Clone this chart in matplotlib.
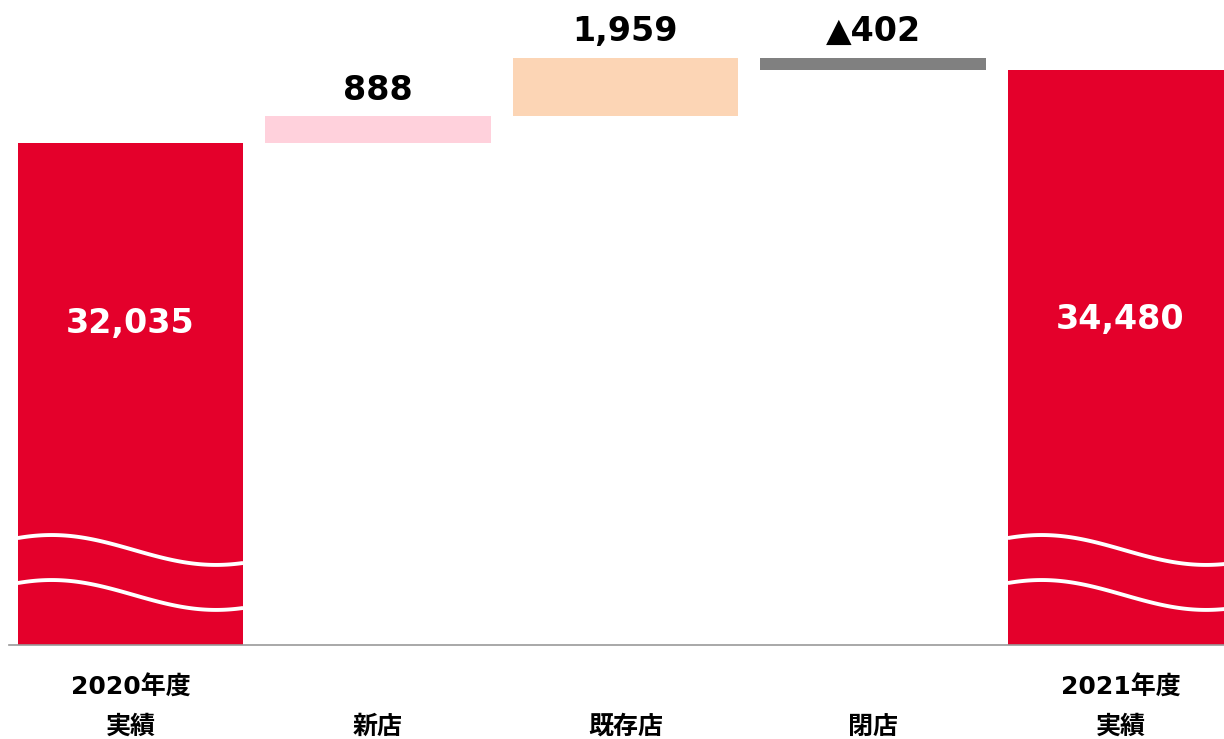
import matplotlib
import matplotlib.pyplot as plt
import numpy as np

matplotlib.use("Agg")

# waterfall values (million yen style)
start_value = 32035
changes = [888, 1959, -402]
end_value = 34480
value_labels = ["32,035", "888", "1,959", "▲402", "34,480"]
labels_line1 = ["2020年度", "", "", "", "2021年度"]
labels_line2 = ["実績", "新店", "既存店", "閉店", "実績"]

RED = "#E4002B"
change_colors = ["#FFD1DC", "#FCD5B5", "#808080"]

Y_MIN, Y_MAX = 15246, 36818
BAR_W = 0.91


def _draw_break(ax, x, levels, amp=500):
    # white wavy lines showing the axis break
    u = np.linspace(0, 1, 100)
    xs = x - BAR_W / 2 + u * BAR_W
    for lvl in levels:
        ys = lvl + amp * np.cos(np.pi * (u - 0.15) / 0.73)
        ax.plot(xs, ys, color="white", lw=2.8, solid_capstyle="butt", zorder=4)


def plot_waterfall():
    plt.close("all")
    fig = plt.figure(figsize=(12.24, 7.39), dpi=100)
    ax = fig.add_axes([0, 0.1272, 1, 0.8728])
    ax.set_xlim(-0.527, 4.418)
    ax.set_ylim(Y_MIN, Y_MAX)
    ax.axis("off")

    # totals
    ax.bar(0, start_value - Y_MIN, bottom=Y_MIN, width=BAR_W, color=RED, zorder=3)
    ax.bar(4, end_value - Y_MIN, bottom=Y_MIN, width=BAR_W, color=RED, zorder=3)

    # floating change bars
    level = start_value
    tops = [start_value]
    for i, (chg, col) in enumerate(zip(changes, change_colors), start=1):
        lo, hi = sorted([level, level + chg])
        ax.bar(i, hi - lo, bottom=lo, width=BAR_W, color=col, zorder=3)
        tops.append(hi)
        level += chg
    tops.append(end_value)

    for x in (0, 4):
        _draw_break(ax, x, [18424, 16919])

    ax.plot([-0.49, 4.418], [Y_MIN, Y_MIN], color="#999999", lw=1.2, zorder=5,
            clip_on=False)

    # value labels
    for i, txt in enumerate(value_labels):
        if i in (0, 4):
            ax.text(i, 26015 if i == 0 else 26116, txt, ha="center", va="center",
                    color="white", fontsize=24, fontweight="bold", zorder=6)
        else:
            ax.annotate(txt, (i, tops[i]), xytext=(0, 7), textcoords="offset points",
                        ha="center", va="bottom", fontsize=24, fontweight="bold",
                        color="black")

    fam = ["DejaVu Sans", "Noto Sans CJK JP"]
    for i, (l1, l2) in enumerate(zip(labels_line1, labels_line2)):
        xf = (i + 0.527) / (4.418 + 0.527)
        if l1:
            fig.text(xf, 1 - 688 / 739, l1, ha="center", va="center", fontsize=18,
                     fontweight="bold", family=fam)
        fig.text(xf, 1 - 727 / 739, l2, ha="center", va="center", fontsize=18,
                 fontweight="bold", family=fam)
    return fig


plot_waterfall().savefig("out.png", dpi=100)
